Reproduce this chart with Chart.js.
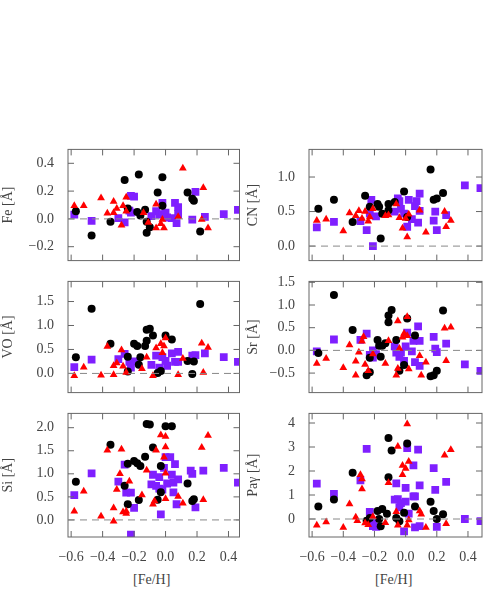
<!DOCTYPE html>
<html>
<head>
<meta charset="utf-8">
<script src="https://cdn.jsdelivr.net/npm/chart.js@4/dist/chart.umd.min.js"></script>
<style>
  body { margin: 0; background: #fff; width: 491px; height: 599px; position: relative; overflow: hidden; }
  canvas { position: absolute; }
  .xt { position: absolute; top: 572px; font: 14px "Liberation Serif", serif; color: #444; }
</style>
</head>
<body>
<canvas id="fe"></canvas><canvas id="cn"></canvas>
<canvas id="vo"></canvas><canvas id="sr"></canvas>
<canvas id="si"></canvas><canvas id="pa"></canvas>
<div class="xt" style="left:133px">[Fe/H]</div>
<div class="xt" style="left:375px">[Fe/H]</div>
<script>
// [x, y] pairs: black circles, red triangles, purple squares
const feBlack = [[-0.57,0.055],[-0.47,-0.12],[-0.35,-0.02],[-0.26,0.28],[-0.24,0.075],[-0.18,0.05],[-0.17,0.32],[-0.16,0.025],[-0.13,0.065],[-0.12,-0.02],[-0.12,-0.10],[-0.10,-0.06],[-0.05,0.19],[-0.02,0.30],[-0.02,0.095],[0.14,0.19],[0.17,0.145],[0.18,0.13],[0.22,-0.09]];
const feRed = [[-0.58,0.095],[-0.52,0.095],[-0.41,0.15],[-0.37,0.04],[-0.33,0.125],[-0.33,0.045],[-0.31,0.075],[-0.28,-0.045],[-0.27,0.095],[-0.25,0.155],[-0.25,0.055],[-0.14,0.045],[-0.11,-0.025],[-0.06,0.105],[-0.06,-0.065],[-0.03,-0.035],[-0.02,-0.005],[-0.01,-0.065],[0.08,0.015],[0.11,0.365],[0.23,-0.005],[0.24,0.225],[0.27,-0.065]];
const fePurple = [[-0.58,0.03],[-0.47,-0.015],[-0.30,0.005],[-0.26,-0.025],[-0.23,0.06],[-0.22,0.045],[-0.22,0.165],[-0.20,0.16],[-0.09,0.02],[-0.06,0.055],[-0.04,0.03],[-0.02,0.115],[-0.02,0.035],[0.0,0.045],[0.01,0.01],[0.04,0.005],[0.06,0.115],[0.07,-0.03],[0.08,0.085],[0.08,0.035],[0.17,-0.005],[0.19,0.195],[0.25,0.015],[0.37,0.035],[0.46,0.065]];

const cnBlack = [[-0.56,0.54],[-0.46,0.67],[-0.34,0.35],[-0.26,0.73],[-0.23,0.57],[-0.18,0.61],[-0.17,0.57],[-0.16,0.11],[-0.15,0.47],[-0.11,0.52],[-0.11,0.61],[-0.07,0.64],[-0.01,0.79],[0.01,0.42],[0.16,1.11],[0.18,0.67],[0.20,0.69],[0.24,0.77]];
const cnRed = [[-0.57,0.37],[-0.51,0.39],[-0.40,0.22],[-0.36,0.48],[-0.32,0.44],[-0.30,0.51],[-0.28,0.40],[-0.26,0.50],[-0.24,0.36],[-0.23,0.42],[-0.21,0.54],[-0.13,0.44],[-0.11,0.45],[-0.06,0.61],[-0.04,0.41],[-0.02,0.26],[0.0,0.40],[0.01,0.13],[0.02,0.46],[0.09,0.52],[0.13,0.20],[0.25,0.50],[0.26,0.28],[0.29,0.37]];
const cnPurple = [[-0.57,0.27],[-0.46,0.35],[-0.29,0.36],[-0.25,0.23],[-0.23,0.47],[-0.22,0.67],[-0.21,0.0],[-0.19,0.43],[-0.07,0.50],[-0.05,0.69],[-0.04,0.65],[-0.03,0.54],[-0.01,0.47],[0.01,0.28],[0.02,0.67],[0.04,0.39],[0.06,0.58],[0.07,0.65],[0.08,0.34],[0.09,0.76],[0.09,0.51],[0.18,0.37],[0.19,0.50],[0.20,0.23],[0.26,0.45],[0.38,0.88],[0.48,0.84]];

const voBlack = [[-0.57,0.34],[-0.47,1.35],[-0.35,0.62],[-0.24,0.35],[-0.24,0.04],[-0.20,0.62],[-0.18,0.57],[-0.17,0.18],[-0.16,0.34],[-0.13,0.57],[-0.12,0.91],[-0.10,0.93],[-0.12,0.68],[-0.08,0.79],[-0.05,0.01],[-0.03,0.05],[0.0,0.79],[0.04,0.71],[0.14,0.26],[0.17,-0.01],[0.18,0.25],[0.22,1.45]];
const voRed = [[-0.58,-0.05],[-0.52,0.13],[-0.41,-0.04],[-0.37,0.56],[-0.33,-0.03],[-0.33,0.16],[-0.31,0.22],[-0.28,0.49],[-0.27,0.15],[-0.25,0.02],[-0.15,0.10],[-0.12,0.34],[-0.08,-0.05],[-0.06,0.53],[-0.03,0.62],[-0.01,0.57],[0.0,0.74],[-0.02,0.43],[0.08,-0.03],[0.11,0.31],[0.23,0.63],[0.24,0.02],[0.27,0.54]];
const voPurple = [[-0.58,0.13],[-0.47,0.29],[-0.30,0.30],[-0.26,0.41],[-0.23,0.24],[-0.22,0.12],[-0.20,0.25],[-0.09,0.18],[-0.06,0.37],[-0.04,0.12],[-0.02,0.34],[0.0,0.26],[0.01,0.16],[0.04,0.42],[0.06,0.24],[0.08,0.45],[0.08,0.24],[0.17,0.37],[0.19,0.38],[0.25,0.42],[0.37,0.34],[0.46,0.24]];

const srBlack = [[-0.56,-0.06],[-0.46,1.22],[-0.34,0.45],[-0.25,-0.55],[-0.23,-0.48],[-0.23,-0.16],[-0.18,0.23],[-0.17,0.10],[-0.16,-0.14],[-0.15,0.10],[-0.13,0.16],[-0.11,0.62],[-0.11,0.77],[-0.09,0.89],[-0.06,0.23],[-0.04,-0.45],[-0.01,-0.32],[0.01,0.70],[0.06,0.33],[0.16,-0.57],[0.18,-0.55],[0.20,-0.45],[0.24,0.88]];
const srRed = [[-0.57,-0.29],[-0.51,-0.18],[-0.40,-0.38],[-0.36,0.12],[-0.32,-0.55],[-0.32,-0.24],[-0.30,-0.04],[-0.28,0.20],[-0.27,0.30],[-0.26,-0.31],[-0.24,-0.45],[-0.21,-0.08],[-0.13,-0.29],[-0.11,0.21],[-0.06,-0.55],[-0.05,0.65],[-0.05,-0.40],[-0.04,0.04],[-0.02,0.29],[-0.01,0.37],[0.01,0.74],[0.01,0.32],[0.02,-0.41],[0.09,-0.12],[0.10,-0.55],[0.13,-0.26],[0.25,0.49],[0.26,-0.23],[0.29,0.51]];
const srPurple = [[-0.57,-0.02],[-0.46,0.24],[-0.29,0.23],[-0.25,0.37],[-0.23,-0.10],[-0.21,0.0],[-0.21,-0.16],[-0.19,-0.08],[-0.07,0.09],[-0.06,-0.05],[-0.04,-0.14],[-0.03,-0.05],[-0.01,-0.23],[0.0,0.09],[0.01,0.39],[0.04,-0.02],[0.05,0.21],[0.06,-0.26],[0.09,-0.34],[0.08,0.53],[0.09,0.21],[0.18,0.30],[0.19,0.04],[0.20,-0.04],[0.26,0.15],[0.38,-0.31],[0.48,-0.45]];

const siBlack = [[-0.57,0.83],[-0.35,1.63],[-0.26,0.74],[-0.24,0.34],[-0.24,1.22],[-0.20,1.28],[-0.18,1.23],[-0.17,0.43],[-0.16,1.17],[-0.13,1.37],[-0.12,2.08],[-0.10,2.07],[-0.08,1.57],[-0.05,0.44],[-0.03,1.17],[-0.03,0.60],[0.0,2.03],[0.04,2.03],[0.14,0.79],[0.17,0.41],[0.18,0.45]];
const siRed = [[-0.58,0.19],[-0.52,0.62],[-0.41,0.08],[-0.37,1.51],[-0.33,0.26],[-0.33,-0.03],[-0.31,0.66],[-0.29,1.0],[-0.28,1.53],[-0.27,0.17],[-0.25,0.19],[-0.25,0.14],[-0.23,0.84],[-0.15,0.54],[-0.12,1.08],[-0.08,0.34],[-0.07,0.41],[-0.06,1.51],[-0.03,1.84],[-0.01,1.36],[0.0,1.81],[0.0,1.58],[0.0,0.46],[0.0,1.01],[0.08,0.51],[0.11,0.36],[0.23,1.57],[0.24,0.44],[0.27,1.83]];
const siPurple = [[-0.58,0.54],[-0.47,1.01],[-0.30,0.83],[-0.26,1.20],[-0.25,0.59],[-0.22,0.59],[-0.20,0.26],[-0.22,-0.32],[-0.08,0.98],[-0.09,0.77],[-0.06,0.74],[-0.04,0.93],[-0.04,0.68],[-0.03,0.12],[-0.02,0.66],[-0.01,1.13],[0.0,1.36],[0.01,0.79],[0.03,1.36],[0.04,0.98],[0.05,0.81],[0.06,1.21],[0.08,0.88],[0.05,0.60],[0.07,0.34],[0.16,1.07],[0.17,1.0],[0.19,0.27],[0.24,1.07],[0.37,1.13],[0.46,0.81]];

const paBlack = [[-0.56,0.52],[-0.46,0.81],[-0.34,1.93],[-0.25,-0.07],[-0.23,0.04],[-0.18,0.33],[-0.17,0.0],[-0.16,-0.30],[-0.15,0.42],[-0.12,0.22],[-0.11,3.37],[-0.11,1.74],[-0.09,2.85],[-0.06,0.04],[-0.04,-0.09],[-0.01,0.26],[0.01,3.15],[0.06,0.52],[0.16,0.72],[0.18,0.33],[0.20,0.0],[0.24,0.20]];
const paRed = [[-0.57,-0.26],[-0.51,-0.13],[-0.40,-0.35],[-0.36,0.63],[-0.32,0.07],[-0.31,-0.07],[-0.29,1.84],[-0.28,1.67],[-0.28,1.25],[-0.26,-0.17],[-0.24,-0.24],[-0.21,0.09],[-0.13,-0.16],[-0.11,1.51],[-0.06,0.30],[-0.05,3.02],[-0.05,-0.26],[-0.02,2.23],[-0.02,1.84],[0.0,2.10],[0.01,3.96],[0.01,-0.26],[0.02,2.4],[0.02,-0.04],[0.09,0.33],[0.10,0.20],[0.13,-0.35],[0.25,2.66],[0.26,-0.20],[0.29,2.89]];
const paPurple = [[-0.57,1.47],[-0.46,1.05],[-0.29,1.61],[-0.25,2.92],[-0.23,0.30],[-0.21,-0.09],[-0.21,-0.30],[-0.19,-0.33],[-0.07,0.81],[-0.06,1.48],[-0.05,0.83],[-0.04,0.49],[-0.03,0.66],[-0.01,-0.52],[0.0,1.30],[0.0,0.72],[0.01,2.95],[0.02,0.22],[0.05,2.23],[0.05,0.94],[0.06,0.94],[0.06,-0.35],[0.08,2.89],[0.09,1.40],[0.09,-0.30],[0.18,2.12],[0.19,1.21],[0.20,-0.33],[0.26,1.55],[0.38,0.0],[0.48,-0.09]];

const xTicks = [-0.6, -0.4, -0.2, 0.0, 0.2, 0.4];
const feTicks = [-0.2, 0.0, 0.2, 0.4];
const cnTicks = [0.0, 0.5, 1.0];
const voTicks = [0.0, 0.5, 1.0, 1.5];
const srTicks = [-0.5, 0.0, 0.5, 1.0, 1.5];
const siTicks = [0.0, 0.5, 1.0, 1.5, 2.0];
const paTicks = [0, 1, 2, 3, 4];

const FONT = "'Liberation Serif', serif";
const INK = "#444";
const fmt = (v, d) => (v < 0 ? "\u2212" : "") + Math.abs(v).toFixed(d);

// frame, inward tick marks and the dashed zero line
const framePlugin = {
  id: "frame",
  afterDraw(chart) {
    const { ctx, chartArea: a, scales } = chart;
    ctx.save();
    ctx.strokeStyle = "#666";
    ctx.lineWidth = 1;
    ctx.strokeRect(a.left, a.top, a.right - a.left, a.bottom - a.top);
    ctx.beginPath();
    xTicks.forEach(v => {
      const px = scales.x.getPixelForValue(v);
      ctx.moveTo(px, a.bottom); ctx.lineTo(px, a.bottom - 6);
      ctx.moveTo(px, a.top); ctx.lineTo(px, a.top + 6);
    });
    chart.options.yTickList.forEach(v => {
      const py = scales.y.getPixelForValue(v);
      ctx.moveTo(a.left, py); ctx.lineTo(a.left + 6, py);
      ctx.moveTo(a.right, py); ctx.lineTo(a.right - 6, py);
    });
    ctx.stroke();
    const y0 = scales.y.getPixelForValue(0);
    ctx.strokeStyle = "#888";
    ctx.setLineDash([7, 5]);
    ctx.beginPath();
    ctx.moveTo(a.left, y0); ctx.lineTo(a.right, y0);
    ctx.stroke();
    ctx.restore();
  }
};

function makePanel(id, opts) {
  const el = document.getElementById(id);
  const right = opts.col === 1;
  const showX = !!opts.showX;
  const pad = 8;
  const bottomExtra = showX ? 26 : 0;
  el.style.left = (right ? 245 : 0) + "px";
  el.style.top = (opts.top - pad) + "px";
  el.style.width = (right ? 246 : 245) + "px";
  el.style.height = (opts.height + pad + bottomExtra) + "px";
  const pt = (data, color, style, r) => ({
    data: data.map(p => ({ x: p[0], y: p[1] })),
    backgroundColor: color, borderColor: color, borderWidth: 0,
    pointStyle: style, pointRadius: r, pointHoverRadius: r
  });
  new Chart(el, {
    type: "scatter",
    data: {
      datasets: [
        pt(opts.red, "#ff0000", "triangle", 4.5),
        pt(opts.black, "#000000", "circle", 4),
        pt(opts.purple, "#7f1fff", "rect", 5.5)
      ]
    },
    options: {
      responsive: false, animation: false,
      yTickList: opts.ticks,
      layout: { padding: { top: pad, right: right ? 9 : 5, left: 0, bottom: 0 } },
      plugins: { legend: { display: false }, tooltip: { enabled: false } },
      scales: {
        x: {
          type: "linear", min: -0.62, max: right ? 0.49 : 0.47,
          display: showX,
          grid: { display: false }, border: { display: false },
          afterBuildTicks: s => { s.ticks = xTicks.map(v => ({ value: v })); },
          afterFit: s => { s.height = showX ? 26 : 0; },
          ticks: { color: INK, font: { family: FONT, size: 14 }, padding: 4,
            callback: v => fmt(v, 1) }
        },
        y: {
          min: opts.min, max: opts.max,
          grid: { display: false }, border: { display: false },
          afterBuildTicks: s => { s.ticks = opts.ticks.map(v => ({ value: v })); },
          afterFit: s => { s.width = right ? 64 : 68; },
          ticks: { color: INK, font: { family: FONT, size: 14 }, padding: 6,
            callback: v => fmt(v, opts.dec) },
          title: { display: true, text: opts.title, color: INK,
            font: { family: FONT, size: 14 }, padding: { top: 0, bottom: 4 } }
        }
      }
    },
    plugins: [framePlugin]
  });
}

makePanel("fe", { col: 0, top: 143, height: 132, min: -0.3, max: 0.5, ticks: feTicks, dec: 1, title: "Fe [Å]", black: feBlack, red: feRed, purple: fePurple });
makePanel("cn", { col: 1, top: 143, height: 132, min: -0.21, max: 1.4, ticks: cnTicks, dec: 1, title: "CN [Å]", black: cnBlack, red: cnRed, purple: cnPurple });
makePanel("vo", { col: 0, top: 275, height: 132, min: -0.4, max: 1.92, ticks: voTicks, dec: 1, title: "VO [Å]", black: voBlack, red: voRed, purple: voPurple });
makePanel("sr", { col: 1, top: 275, height: 132, min: -0.93, max: 1.52, ticks: srTicks, dec: 1, title: "Sr [Å]", black: srBlack, red: srRed, purple: srPurple });
makePanel("si", { col: 0, top: 407, height: 130, min: -0.37, max: 2.31, ticks: siTicks, dec: 1, title: "Si [Å]", black: siBlack, red: siRed, purple: siPurple, showX: true });
makePanel("pa", { col: 1, top: 407, height: 130, min: -0.75, max: 4.4, ticks: paTicks, dec: 0, title: "Paγ [Å]", black: paBlack, red: paRed, purple: paPurple, showX: true });
</script>
</body>
</html>
